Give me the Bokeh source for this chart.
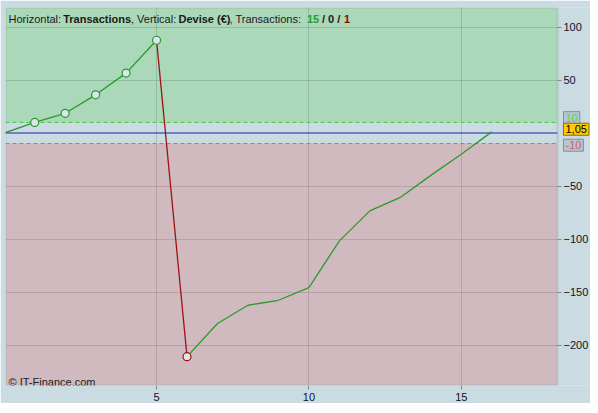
from bokeh.plotting import figure
from bokeh.models import BoxAnnotation, Span, Label, FixedTicker
from bokeh.embed import file_html
from bokeh.resources import INLINE

# ---- data ----
trades = list(range(17))
equity = [0, 10, 18.6, 36, 56.5, 87.5, -211, -179.7, -162.5, -157.8,
          -145.8, -101.8, -73.5, -60.8, -40, -20, 1.05]
marker_idx = [1, 2, 3, 4, 5, 6]
x_ticks = [5, 10, 15]
y_ticks = [-200, -150, -100, -50, 50, 100]
upper_limit = 10
lower_limit = -10
last_value = 1.05
last_value_text = "1,05"
upper_text = "10"
lower_text = "-10"
title_parts = [("Horizontal:", "normal", "#1a1a1a"),
               ("Transactions", "bold", "#1a1a1a"),
               (", Vertical:", "normal", "#1a1a1a"),
               ("Devise (€)", "bold", "#1a1a1a"),
               (", Transactions:", "normal", "#1a1a1a"),
               ("15", "bold", "#2a9a2a"),
               ("/ 0 /", "bold", "#1a1a1a"),
               ("1", "bold", "#990000")]
title_px = [8, 62.7, 130.5, 178, 229, 306.5, 321.5, 343.5]
watermark = "© IT-Finance.com"

# ---- layout (canvas pixels) ----
LEFT, TOP = 5, 7
FW, FH = 585, 378
PLOT_RIGHT = 557          # right edge of the drawn plot area
SX, SY = 30.47, 1.06
X0 = (LEFT - 3.7) / SX
Y1 = (132.5 - TOP) / SY
def dx(px):
    return X0 + (px - LEFT) / SX
def dy(py):
    return Y1 - (py - TOP) / SY
XR = dx(PLOT_RIGHT)

BG = "#cbdbe2"
GREEN = "#2a9a2a"
RED = "#a01010"
FONT = "Liberation Sans"

p = figure(frame_width=FW, frame_height=FH,
           x_range=(X0, X0 + FW / SX), y_range=(Y1 - FH / SY, Y1),
           output_backend="svg", toolbar_location=None,
           y_axis_location="right",
           min_border_left=LEFT, min_border_top=TOP, min_border_right=0, min_border_bottom=0,
           background_fill_color=BG, border_fill_color=BG)
p.outline_line_color = None

# regions
p.add_layout(BoxAnnotation(bottom=upper_limit, right=XR, fill_color="#aad8b8", fill_alpha=1,
                           line_color=None, level="image"))
p.add_layout(BoxAnnotation(top=lower_limit, right=XR, fill_color="#d1babf", fill_alpha=1,
                           line_color=None, level="image"))

# axes
for ax in (p.xaxis, p.yaxis):
    ax.axis_line_color = None
    ax.major_tick_line_color = "#7a8890"
    ax.major_tick_in = 0
    ax.major_tick_out = 4
    ax.minor_tick_line_color = None
    ax.major_label_text_font = FONT
    ax.major_label_text_font_size = "11px"
    ax.major_label_text_color = "#10102a"
    ax.major_label_standoff = 2
p.xaxis.major_label_standoff = 3
p.xaxis.ticker = FixedTicker(ticks=x_ticks)
p.yaxis.ticker = FixedTicker(ticks=y_ticks)
p.yaxis.fixed_location = XR

p.grid.grid_line_color = "#000000"
p.grid.grid_line_alpha = 0.13

# limit lines
p.add_layout(Span(location=upper_limit, dimension="width", line_color="#44cc44",
                  line_dash="4 3", line_width=1, level="underlay"))
p.add_layout(Span(location=lower_limit, dimension="width", line_color="#cc6666",
                  line_dash="4 3", line_width=1, level="underlay"))
p.add_layout(Span(location=0, dimension="width", line_color="#2020b0", line_width=1,
                  level="underlay"))

# area right of the plot (axis side)
p.add_layout(BoxAnnotation(left=XR, fill_color=BG, fill_alpha=1, line_color=None,
                           level="glyph"))

# equity curve
seg_colors = [RED if equity[i + 1] < equity[i] else GREEN for i in range(len(equity) - 1)]
p.segment(x0=trades[:-1], y0=equity[:-1], x1=trades[1:], y1=equity[1:],
          line_color=seg_colors, line_width=1.3)
mx = [trades[i] for i in marker_idx]
my = [equity[i] for i in marker_idx]
mc = [RED if equity[i] < equity[i - 1] else GREEN for i in marker_idx]
p.scatter(mx, my, size=8, marker="circle", line_color=mc, fill_color="#d9e6ea",
          line_width=1.2)

# plot border
p.add_layout(BoxAnnotation(right=XR, fill_alpha=0, line_color="#8797a2", line_width=2,
                           level="annotation"))

# title
for (txt, style, col), px in zip(title_parts, title_px):
    p.add_layout(Label(x=dx(px), y=dy(18.3), text=txt, text_font=FONT,
                       text_font_size="11px", text_font_style=style,
                       text_color=col, text_baseline="alphabetic"))

# watermark
p.add_layout(Label(x=dx(8), y=dy(381.5), text=watermark, text_font=FONT,
                   text_font_size="11px", text_color="#1a1a1a",
                   text_baseline="alphabetic"))

# right side value boxes
def side_label(text, yval, color, bg, border):
    return Label(x=dx(563), y=yval, text=text, text_font=FONT, text_font_size="11px",
                 text_color=color, text_baseline="middle", background_fill_color=bg,
                 border_line_color=border, padding=2)

p.add_layout(side_label(upper_text, upper_limit + 4.5, "#66cc66", "#b4c6d0", "#7f909c"))
p.add_layout(side_label(lower_text, lower_limit - 1.5, "#d06060", "#b4c6d0", "#7f909c"))
p.add_layout(side_label(last_value_text, last_value + 2.5, "#000000", "#ffcc00", "#8a7000"))

open("out.html", "w").write(file_html(p, INLINE))
